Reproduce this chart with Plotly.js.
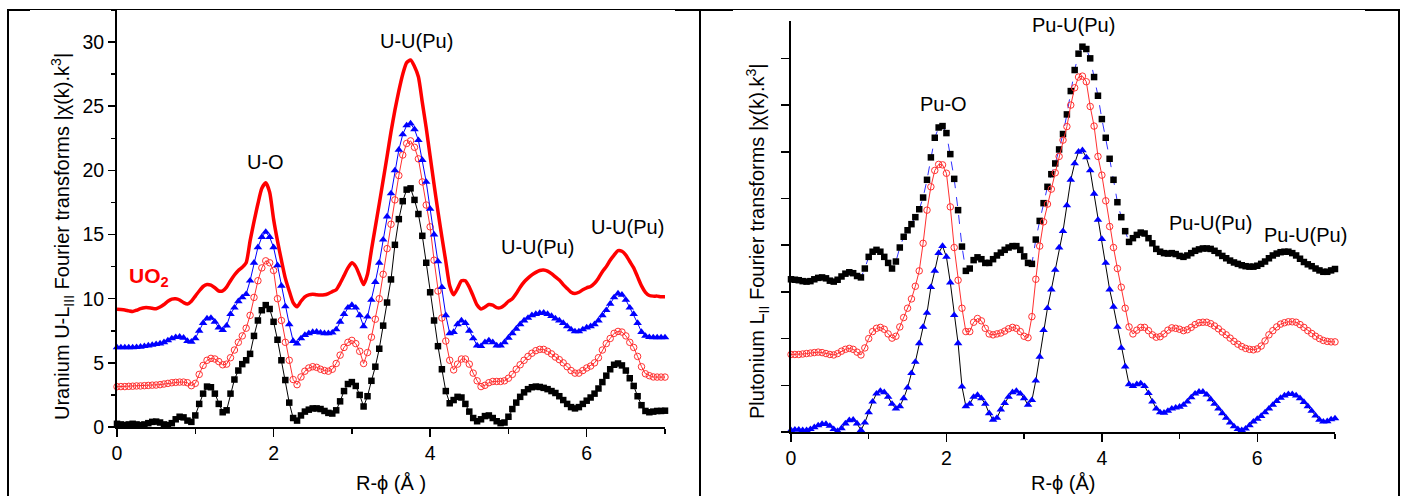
<!DOCTYPE html>
<html>
<head>
<meta charset="utf-8">
<script src="https://cdn.plot.ly/plotly-3.0.1.min.js"></script>
<style>html,body{margin:0;padding:0;background:#fff;}#chart{width:1406px;height:496px;}</style>
</head>
<body>
<div id="chart"></div>
<script>
// Sample grid R-phi (Å)
const R = [0,0.05,0.1,0.15,0.2,0.25,0.3,0.35,0.4,0.45,
0.5,0.55,0.6,0.65,0.7,0.75,0.8,0.85,0.9,0.95,
1,1.05,1.1,1.15,1.2,1.25,1.3,1.35,1.4,1.45,
1.5,1.55,1.6,1.65,1.7,1.75,1.8,1.85,1.9,1.95,
2,2.05,2.1,2.15,2.2,2.25,2.3,2.35,2.4,2.45,
2.5,2.55,2.6,2.65,2.7,2.75,2.8,2.85,2.9,2.95,
3,3.05,3.1,3.15,3.2,3.25,3.3,3.35,3.4,3.45,
3.5,3.55,3.6,3.65,3.7,3.75,3.8,3.85,3.9,3.95,
4,4.05,4.1,4.15,4.2,4.25,4.3,4.35,4.4,4.45,
4.5,4.55,4.6,4.65,4.7,4.75,4.8,4.85,4.9,4.95,
5,5.05,5.1,5.15,5.2,5.25,5.3,5.35,5.4,5.45,
5.5,5.55,5.6,5.65,5.7,5.75,5.8,5.85,5.9,5.95,
6,6.05,6.1,6.15,6.2,6.25,6.3,6.35,6.4,6.45,
6.5,6.55,6.6,6.65,6.7,6.75,6.8,6.85,6.9,6.95,7];

// Left panel: Uranium U-LIII
const uo2Line = [9.17,9.15,9.12,9.05,9.0,9.1,9.22,9.3,9.3,9.25,
9.22,9.35,9.55,9.8,9.97,10.0,9.9,9.7,9.58,9.8,
10.2,10.6,10.95,11.1,11.05,10.85,10.6,10.6,10.9,11.4,
11.85,12.2,12.45,12.8,14.5,16.0,17.4,18.6,19.03,18.3,
16.2,14.5,13.0,11.6,10.6,9.7,9.37,9.8,10.15,10.3,
10.35,10.3,10.28,10.3,10.4,10.55,10.7,11.2,11.8,12.4,
12.8,12.5,11.8,11.1,11.9,13.8,15.6,17.4,19.24,21.1,
23.0,24.7,26.2,27.5,28.4,28.6,28.1,27.3,25.3,23.3,
21.1,18.9,16.8,14.8,12.9,11.0,10.3,10.8,11.4,11.4,
10.9,10.2,9.5,9.2,9.35,9.55,9.5,9.3,9.3,9.5,
9.8,10.0,10.4,10.9,11.3,11.6,11.85,12.05,12.2,12.23,
12.15,11.95,11.7,11.45,11.1,10.8,10.5,10.4,10.5,10.7,
10.85,10.95,11.2,11.6,12.1,12.5,13.0,13.4,13.75,13.7,
13.4,12.9,12.4,11.7,11.0,10.5,10.25,10.2,10.2,10.15,10.15];

const uSquares = [0.25,0.2,0.15,0.2,0.25,0.2,0.15,0.2,0.3,0.4,
0.42,0.35,0.2,0.15,0.3,0.6,0.8,0.75,0.5,0.4,
0.9,1.8,2.6,3.15,3.1,2.6,1.8,1.15,1.3,2.6,
3.7,4.4,4.9,5.2,5.7,7.1,8.3,9.1,9.5,9.2,
8.2,6.8,5.2,3.66,1.9,0.7,0.5,0.9,1.2,1.35,
1.45,1.45,1.4,1.25,1.1,1.05,1.3,2.0,2.8,3.35,
3.5,3.2,2.5,1.6,2.4,3.6,4.7,6.1,7.9,9.7,
11.5,14.2,16.2,17.6,18.5,18.6,17.7,16.6,14.9,12.8,
10.5,8.3,6.3,4.5,2.8,1.85,2.1,2.35,2.3,1.8,
1.2,0.7,0.45,0.6,0.85,0.9,0.7,0.45,0.3,0.35,
0.8,1.4,1.9,2.35,2.7,2.95,3.1,3.15,3.12,3.05,
2.95,2.8,2.65,2.4,2.1,1.8,1.55,1.45,1.55,1.8,
2.05,2.3,2.6,3.0,3.5,4.0,4.5,4.85,4.95,4.8,
4.4,3.8,3.2,2.4,1.7,1.25,1.15,1.2,1.25,1.25,1.27];

const uCircles = [3.14,3.15,3.15,3.17,3.18,3.2,3.2,3.22,3.24,3.26,
3.27,3.3,3.35,3.4,3.45,3.48,3.5,3.5,3.45,3.22,
3.4,4.1,4.8,5.2,5.35,5.3,5.1,4.85,4.9,5.4,
6.0,6.6,7.1,7.7,8.7,10.1,11.4,12.4,12.95,12.8,
12.2,10.0,8.3,6.6,5.2,3.7,3.3,3.9,4.35,4.6,
4.7,4.65,4.5,4.4,4.35,4.5,4.95,5.6,6.2,6.6,
6.75,6.5,5.9,4.95,5.8,7.0,8.4,10.0,11.9,13.9,
15.8,17.7,19.6,21.2,22.1,22.3,21.8,20.9,19.1,17.3,
15.6,13.0,10.6,8.5,6.7,5.2,4.45,4.9,5.3,5.3,
4.9,4.2,3.6,3.15,3.25,3.45,3.55,3.55,3.55,3.6,
3.8,4.1,4.5,4.85,5.2,5.5,5.75,5.95,6.05,6.05,
5.9,5.7,5.45,5.25,5.0,4.7,4.4,4.2,4.2,4.4,
4.6,4.75,5.0,5.4,6.0,6.5,6.9,7.3,7.45,7.4,
7.1,6.6,6.2,5.5,4.7,4.15,4.0,3.9,3.89,3.89,3.89];

const uTriangles = [6.2,6.2,6.2,6.2,6.2,6.22,6.25,6.3,6.35,6.4,
6.45,6.5,6.6,6.75,6.9,7.0,7.03,6.95,6.7,6.64,
6.9,7.5,8.1,8.45,8.5,8.2,7.75,7.55,7.9,8.8,
9.3,9.8,10.1,10.35,11.4,12.8,14.0,14.8,15.2,14.8,
14.0,12.6,11.0,9.4,8.0,6.7,6.5,6.9,7.17,7.3,
7.4,7.42,7.35,7.3,7.3,7.35,7.6,8.2,8.8,9.3,
9.5,9.3,8.7,7.85,8.6,9.9,11.3,12.8,14.6,16.4,
18.2,20.0,21.6,22.8,23.5,23.65,23.2,22.35,20.8,19.1,
17.0,15.0,12.9,10.9,8.7,7.3,7.4,8.0,8.3,8.1,
7.5,6.9,6.35,6.3,6.6,6.75,6.6,6.35,6.35,6.6,
6.95,7.3,7.65,8.0,8.3,8.5,8.7,8.8,8.88,8.9,
8.8,8.65,8.45,8.3,8.1,7.85,7.6,7.45,7.45,7.6,
7.75,7.85,8.0,8.3,8.7,9.1,9.6,10.1,10.4,10.3,
9.9,9.3,8.8,8.1,7.4,7.1,7.0,6.98,6.98,6.98,6.98];

// Right panel: Plutonium LII (arbitrary units, one per tick)
const puSquares = [3.27,3.26,3.25,3.23,3.22,3.23,3.27,3.3,3.31,3.29,
3.24,3.22,3.26,3.33,3.39,3.42,3.4,3.34,3.31,3.5,
3.75,3.86,3.9,3.86,3.75,3.62,3.5,3.65,3.95,4.18,
4.32,4.45,4.6,4.77,5.02,5.4,5.88,6.3,6.52,6.55,
6.4,5.95,5.42,4.75,3.97,3.45,3.5,3.68,3.74,3.7,
3.62,3.62,3.7,3.78,3.84,3.9,3.95,3.98,3.98,3.9,
3.76,3.62,3.6,4.12,4.52,4.9,5.25,5.52,5.75,6.05,
6.38,6.8,7.3,7.75,8.1,8.25,8.2,8.0,7.6,7.2,
6.7,6.3,5.85,5.4,4.92,4.6,4.3,4.07,4.15,4.22,
4.27,4.25,4.15,4.04,3.92,3.86,3.83,3.82,3.83,3.81,
3.77,3.75,3.78,3.83,3.88,3.91,3.93,3.93,3.92,3.88,
3.83,3.77,3.72,3.67,3.63,3.6,3.57,3.55,3.54,3.54,
3.56,3.6,3.65,3.72,3.78,3.82,3.85,3.86,3.86,3.83,
3.78,3.71,3.64,3.59,3.55,3.5,3.46,3.43,3.43,3.46,3.49];

const puCircles = [1.66,1.66,1.66,1.67,1.68,1.69,1.7,1.71,1.7,1.68,
1.66,1.65,1.68,1.73,1.77,1.79,1.77,1.71,1.65,1.8,
2.0,2.15,2.22,2.24,2.2,2.1,2.01,2.05,2.25,2.45,
2.65,2.85,3.12,3.45,4.04,4.75,5.25,5.6,5.73,5.72,
5.54,4.82,3.95,3.25,2.65,2.15,2.15,2.35,2.43,2.38,
2.22,2.1,2.08,2.1,2.12,2.16,2.21,2.24,2.22,2.15,
2.05,2.02,2.47,3.27,3.98,4.5,4.88,5.2,5.55,5.9,
6.25,6.54,7.0,7.37,7.6,7.62,7.5,6.97,6.55,5.9,
5.5,4.95,4.4,3.95,3.5,3.1,2.65,2.25,2.1,2.18,
2.24,2.24,2.17,2.08,2.03,2.04,2.1,2.18,2.23,2.22,
2.2,2.17,2.19,2.24,2.3,2.34,2.35,2.35,2.32,2.27,
2.21,2.14,2.08,2.01,1.94,1.88,1.83,1.79,1.77,1.76,
1.78,1.84,1.95,2.08,2.17,2.25,2.31,2.34,2.36,2.36,
2.35,2.3,2.24,2.17,2.11,2.05,2.0,1.96,1.94,1.93,1.93];

const puTriangles = [0.04,0.05,0.05,0.04,0.04,0.06,0.1,0.14,0.17,0.17,
0.13,0.06,0.02,0.08,0.18,0.25,0.26,0.18,0.04,0.2,
0.42,0.65,0.82,0.88,0.85,0.75,0.6,0.5,0.55,0.72,
0.95,1.26,1.5,1.9,2.25,2.55,3.1,3.45,3.83,3.98,
3.75,3.2,2.5,1.9,0.97,0.55,0.6,0.75,0.79,0.72,
0.6,0.4,0.26,0.3,0.48,0.62,0.75,0.85,0.88,0.82,
0.72,0.58,0.68,1.1,1.61,2.18,2.65,3.05,3.47,3.95,
4.3,4.85,5.4,5.75,6.0,6.03,5.88,5.6,5.1,4.54,
4.13,3.62,3.05,2.68,2.25,1.8,1.4,1.02,0.98,1.02,
1.04,0.98,0.83,0.65,0.5,0.42,0.41,0.45,0.5,0.52,
0.54,0.58,0.65,0.74,0.82,0.86,0.86,0.8,0.7,0.6,
0.5,0.4,0.3,0.2,0.12,0.06,0.04,0.07,0.14,0.22,
0.28,0.34,0.42,0.5,0.58,0.66,0.73,0.78,0.81,0.81,
0.78,0.72,0.64,0.55,0.45,0.35,0.26,0.22,0.23,0.27,0.29];

const xTickLabels = ['0','2','4','6'];
const xTickVals = [0,2,4,6];

const W = 1406, H = 496;
const px = x => x / W;
const py = y => 1 - y / H;
const FONT = 'Liberation Sans, Arial, Helvetica, sans-serif';

const sqL = {size:6.5, symbol:'square', color:'#000000'};
const ciL = {size:6.5, symbol:'circle-open', color:'#ff3030', line:{width:1}};
const trL = {size:7.5, symbol:'triangle-up', color:'#0000ff'};

const traces = [
  {x:R, y:uSquares, xaxis:'x', yaxis:'y', mode:'lines+markers', line:{color:'#000000', width:1}, marker:sqL, cliponaxis:false},
  {x:R, y:uCircles, xaxis:'x', yaxis:'y', mode:'lines+markers', line:{color:'#ff3030', width:1}, marker:ciL, cliponaxis:false},
  {x:R, y:uTriangles, xaxis:'x', yaxis:'y', mode:'lines+markers', line:{color:'#0000ff', width:1}, marker:trL, cliponaxis:false},
  {x:R, y:uo2Line, xaxis:'x', yaxis:'y', mode:'lines', line:{color:'#ff0000', width:3.5, shape:'spline', smoothing:0.6}, cliponaxis:false},
  {x:R, y:puSquares, xaxis:'x2', yaxis:'y2', mode:'lines+markers', line:{color:'#3030ff', width:1, dash:'dash'}, marker:sqL, cliponaxis:false},
  {x:R, y:puCircles, xaxis:'x2', yaxis:'y2', mode:'lines+markers', line:{color:'#ff3030', width:1}, marker:ciL, cliponaxis:false},
  {x:R, y:puTriangles, xaxis:'x2', yaxis:'y2', mode:'lines+markers', line:{color:'#000000', width:1}, marker:trL, cliponaxis:false}
];

const axisCommon = {
  showline:true, linecolor:'#000', linewidth:2, showgrid:false, zeroline:false,
  ticks:'outside', tickcolor:'#000', tickwidth:1.5, ticklen:7,
  tickfont:{family:FONT, size:19.5, color:'#000'}, fixedrange:true
};

const layout = {
  width:W, height:H, margin:{l:0,r:0,t:0,b:0}, showlegend:false,
  paper_bgcolor:'#fff', plot_bgcolor:'rgba(0,0,0,0)',
  font:{family:FONT, size:20, color:'#000'},
  xaxis: Object.assign({}, axisCommon, {domain:[px(117), px(665)], range:[0,7], anchor:'y',
    tickvals:xTickVals, ticktext:xTickLabels, ticklen:8,
    minor:{ticks:'outside', tickvals:[1,3,5,7], ticklen:5, tickwidth:1.5, tickcolor:'#000'}}),
  yaxis: Object.assign({}, axisCommon, {domain:[py(427), py(10)], range:[0,32.5], anchor:'x',
    tickmode:'linear', tick0:0, dtick:5,
    minor:{ticks:'outside', tick0:2.5, dtick:5, ticklen:4, tickwidth:1.5, tickcolor:'#000'}}),
  xaxis2: Object.assign({}, axisCommon, {domain:[px(791), px(1335)], range:[0,7], anchor:'y2',
    tickvals:xTickVals, ticktext:xTickLabels, ticklen:8,
    minor:{ticks:'outside', tickvals:[1,3,5,7], ticklen:5, tickwidth:1.5, tickcolor:'#000'}}),
  yaxis2: Object.assign({}, axisCommon, {domain:[py(432), py(21)], range:[0,8.8], anchor:'x2',
    tickmode:'linear', tick0:0, dtick:1, ticklen:8, showticklabels:false}),
  annotations: [
    {text:'Uranium U-L<sub>III</sub> Fourier transforms |χ(k).k<sup>3</sup>|', x:px(63), y:py(237), textangle:-90, font:{size:20}},
    {text:'R-ϕ (Å )', x:px(391), y:py(483), font:{size:20}},
    {text:'Plutonium L<sub>II</sub> Fourier transforms |χ(k).k<sup>3</sup>|', x:px(757), y:py(242), textangle:-90, font:{size:20}},
    {text:'R-ϕ (Å)', x:px(1063), y:py(483), font:{size:20}},
    {text:'U-O', x:px(265), y:py(162), font:{size:20}},
    {text:'U-U(Pu)', x:px(416), y:py(41), font:{size:20}},
    {text:'U-U(Pu)', x:px(537), y:py(247), font:{size:20}},
    {text:'U-U(Pu)', x:px(627), y:py(227), font:{size:20}},
    {text:'<b>UO<sub>2</sub></b>', x:px(149), y:py(277), font:{size:21, color:'#ff0000'}},
    {text:'Pu-O', x:px(943), y:py(104), font:{size:20}},
    {text:'Pu-U(Pu)', x:px(1073), y:py(25), font:{size:20}},
    {text:'Pu-U(Pu)', x:px(1210), y:py(223), font:{size:20}},
    {text:'Pu-U(Pu)', x:px(1305), y:py(235), font:{size:20}}
  ].map(a => Object.assign({xref:'paper', yref:'paper', showarrow:false, xanchor:'center', yanchor:'middle'}, a,
        {font:Object.assign({family:FONT, color:'#000'}, a.font)})),
  shapes: [
    {type:'line', xref:'paper', yref:'paper', x0:px(7), x1:px(1400), y0:py(9.5), y1:py(9.5), line:{color:'#000', width:1}},
    {type:'line', xref:'paper', yref:'paper', x0:px(7), x1:px(30), y0:py(10), y1:py(10), line:{color:'#000', width:2}},
    {type:'line', xref:'paper', yref:'paper', x0:px(675), x1:px(733), y0:py(10), y1:py(10), line:{color:'#000', width:2}},
    {type:'line', xref:'paper', yref:'paper', x0:px(1365), x1:px(1399), y0:py(10), y1:py(10), line:{color:'#000', width:2}},
    {type:'line', xref:'paper', yref:'paper', x0:px(8), x1:px(8), y0:py(9), y1:0, line:{color:'#000', width:2}},
    {type:'line', xref:'paper', yref:'paper', x0:px(700), x1:px(700), y0:py(9), y1:0, line:{color:'#000', width:2}},
    {type:'line', xref:'paper', yref:'paper', x0:px(1399), x1:px(1399), y0:py(9), y1:0, line:{color:'#000', width:2}}
  ]
};

Plotly.newPlot('chart', traces, layout, {staticPlot:true, displayModeBar:false});
</script>
</body>
</html>
